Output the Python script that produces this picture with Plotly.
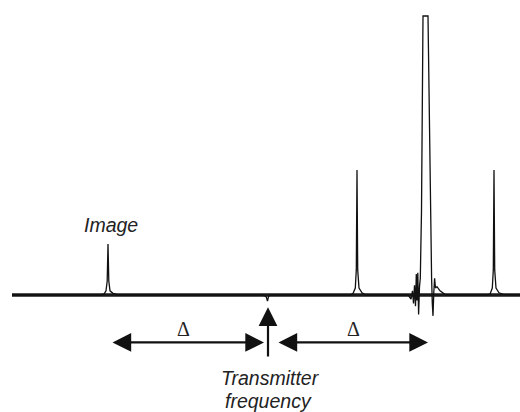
import plotly.graph_objects as go

# Spectrum trace points (frequency axis in arbitrary units, intensity with baseline = 0)
spec_x = [12, 100, 104, 106, 107.2, 108, 108.8, 110, 113, 118,
          262, 266, 267.5, 268.5, 270, 350, 353, 355.3, 356.3, 357, 357.7, 359, 362, 366,
          408, 411, 412.5, 413.5, 414.5, 415.5, 416.3, 417, 417.8, 418.6, 419.5, 420.3,
          421.5, 423, 428, 429.5, 430.6, 431.6, 432.3, 433, 433.8, 434.6, 435.5, 437, 440, 446,
          487, 490, 492.3, 493.3, 494, 494.7, 496, 499, 503, 520]
spec_y = [0, 0, 0.3, 1.5, 5, 18.3, 5, 1.5, 0.6, 0,
          0, -0.5, -2.2, -0.6, 0, 0, 0.5, 2.5, 9, 44.8, 9, 2.5, 0.8, 0,
          0, -1.5, 1.5, -3, 3.5, -4, 7.5, -2, 8, -7, 3, 6,
          30, 100, 100, 55, 22, 6, -3, -7.5, 1, 6, 2.5, 3, 1.5, 0,
          0, 0.3, 2.5, 9, 44.8, 9, 2.5, 0.8, 0.2, 0]

# Noise band of the baseline
base_x = [12, 520]
base_y = [0, 0]

labels = ["Image", "Transmitter", "frequency", "Δ", "Δ"]

fig = go.Figure()
fig.add_trace(go.Scatter(x=base_x, y=base_y, mode="lines",
                         line=dict(color="#1a1a1a", width=3.3), hoverinfo="skip"))
fig.add_trace(go.Scatter(x=spec_x, y=spec_y, mode="lines",
                         line=dict(color="#111111", width=1.3), hoverinfo="skip"))

ann = []
sans = dict(family="Liberation Sans, Arial, sans-serif", size=19.5, color="#222")
serif = dict(family="Liberation Serif, Times New Roman, serif", size=20, color="#222")
ann.append(dict(x=110.5, y=25.0, text="<i>" + labels[0] + "</i>", showarrow=False, font=sans))
ann.append(dict(x=270, y=-29.9, text="<i>" + labels[1] + "</i>", showarrow=False, font=sans))
ann.append(dict(x=268, y=-38.0, text="<i>" + labels[2] + "</i>", showarrow=False, font=sans))
ann.append(dict(x=183, y=-12.2, text=labels[3], showarrow=False, font=serif))
ann.append(dict(x=353, y=-12.2, text=labels[4], showarrow=False, font=serif))

arrow_common = dict(showarrow=True, text="", axref="x", ayref="y", xref="x", yref="y",
                    arrowhead=2, arrowsize=1.7, arrowwidth=2.2, arrowcolor="#111")
# double-headed arrows
ann.append(dict(x=264, y=-17.0, ax=111, ay=-17.0, arrowside="end+start", **arrow_common))
ann.append(dict(x=428, y=-17.0, ax=277, ay=-17.0, arrowside="end+start", **arrow_common))
# transmitter arrow
ann.append(dict(x=268, y=-4.4, ax=268, ay=-22.6, **arrow_common))

fig.update_layout(
    width=520, height=412,
    margin=dict(l=0, r=0, t=0, b=0),
    paper_bgcolor="white", plot_bgcolor="white",
    showlegend=False,
    xaxis=dict(range=[0, 520], visible=False, fixedrange=True),
    yaxis=dict(range=[-41.94, 105.73], visible=False, fixedrange=True),
    annotations=ann,
)
fig.write_html("out.html")
